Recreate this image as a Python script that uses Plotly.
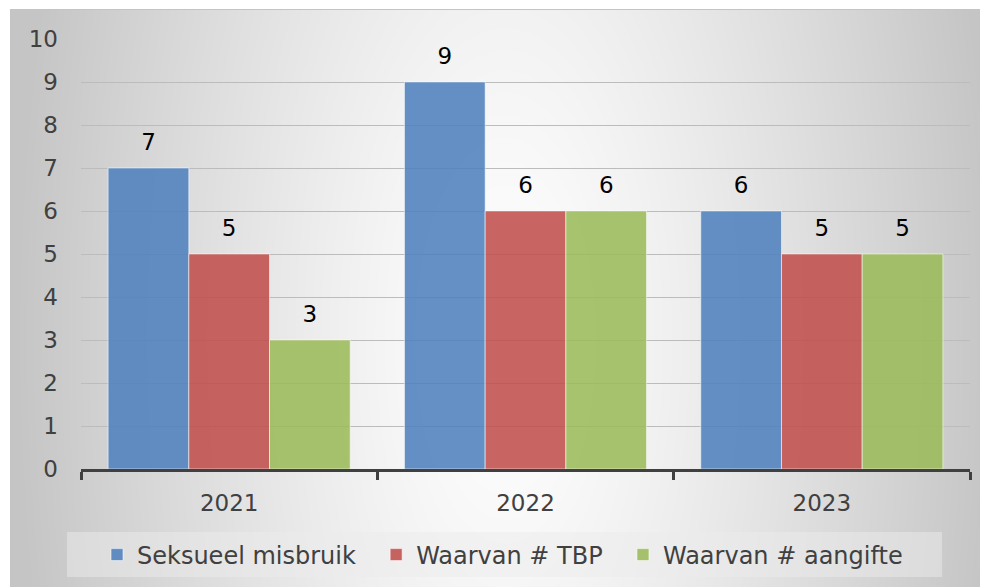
import base64, struct, zlib
import numpy as np
import plotly.graph_objects as go

# ---------------- data ----------------
years = ["2021", "2022", "2023"]
series_names = ["Seksueel misbruik", "Waarvan # TBP", "Waarvan # aangifte"]
seksueel_misbruik = [7, 9, 6]
waarvan_tbp = [5, 6, 5]
waarvan_aangifte = [3, 6, 5]
y_ticks = list(range(0, 11))

series_values = [seksueel_misbruik, waarvan_tbp, waarvan_aangifte]
colors = ["rgba(79,129,189,0.88)", "rgba(192,80,77,0.88)", "rgba(155,187,89,0.88)"]

# ---------------- layout geometry ----------------
# page body has an 8px margin; geometry below is in screen pixels
OFF = 8
W, H = 980, 579
PL, PR, PT, PB = 81, 970, 39, 469          # plot area on screen
FONT = "DejaVu Sans"
FS = 23
LFS = 24


def sx(px):
    return (px - PL) / (PR - PL)


def sy(py):
    return (PB - py) / (PB - PT)


# ---------------- radial gradient background (PNG data URI) ----------------
def make_png(arr):
    h, w = arr.shape
    raw = b"".join(b"\x00" + arr[i].tobytes() for i in range(h))

    def chunk(t, d):
        c = struct.pack(">I", len(d)) + t + d
        return c + struct.pack(">I", zlib.crc32(t + d) & 0xFFFFFFFF)

    ihdr = struct.pack(">IIBBBBB", w, h, 8, 0, 0, 0, 0)
    return (b"\x89PNG\r\n\x1a\n" + chunk(b"IHDR", ihdr)
            + chunk(b"IDAT", zlib.compress(raw, 9)) + chunk(b"IEND", b""))


CX0, CY0, CX1, CY1 = 10, 9, 988, 587
gw, gh = CX1 - CX0, CY1 - CY0
xx, yy = np.meshgrid(np.arange(gw) + CX0, np.arange(gh) + CY0)
cx, cy = 505, 340
r = np.sqrt(((xx - cx) / 492.0) ** 2 + ((yy - cy) / 1100.0) ** 2)
r = np.clip(r, 0, 1) ** 1.25
g = (255 - 58 * r).astype(np.uint8)
uri = "data:image/png;base64," + base64.b64encode(make_png(g)).decode()

fig = go.Figure()

NB = "\u00a0\u00a0"
for i, (name, vals, col) in enumerate(zip(series_names, series_values, colors)):
    fig.add_trace(go.Bar(
        x=years, y=vals, name=name + (NB if i < 2 else ""),
        marker=dict(color=col, line=dict(color="rgba(255,255,255,0.55)", width=1)),
        hoverinfo="skip",
    ))

# data labels, grouped like the bars
for name, vals in zip(series_names, series_values):
    fig.add_trace(go.Scatter(
        x=years, y=vals, mode="markers+text", text=[str(v) for v in vals],
        textposition="top center",
        textfont=dict(family=FONT, size=FS, color="#000000"),
        marker=dict(size=18, color="rgba(0,0,0,0)"),
        showlegend=False, hoverinfo="skip", cliponaxis=False,
    ))

fig.update_layout(
    width=W, height=H,
    margin=dict(l=PL - OFF, r=W - (PR - OFF), t=PT - OFF, b=H - (PB - OFF), autoexpand=False),
    paper_bgcolor="white",
    plot_bgcolor="rgba(0,0,0,0)",
    font=dict(family=FONT, size=FS, color="#404040"),
    barmode="group", bargap=0.183, bargroupgap=0,
    scattermode="group", scattergap=0.183,
    showlegend=True,
    legend=dict(
        orientation="h", x=sx(97), xanchor="left", y=sy(555), yanchor="middle",
        bgcolor="rgba(0,0,0,0)", font=dict(family=FONT, size=LFS, color="#404040"),
        traceorder="normal",
    ),
    images=[dict(
        source=uri, xref="paper", yref="paper",
        x=sx(CX0), y=sy(CY0), sizex=sx(CX1) - sx(CX0), sizey=sy(CY0) - sy(CY1),
        xanchor="left", yanchor="top", sizing="stretch", layer="below",
    )],
    shapes=[
        dict(type="rect", xref="paper", yref="paper",
             x0=sx(67), x1=sx(942), y0=sy(577), y1=sy(532),
             fillcolor="rgba(235,235,235,0.5)", line=dict(width=0), layer="below"),
        dict(type="rect", xref="paper", yref="paper",
             x0=sx(CX0 + 0.5), x1=sx(CX1 + 2), y0=sy(CY1 + 2), y1=sy(CY0 + 0.5),
             fillcolor="rgba(0,0,0,0)", line=dict(width=1, color="#c4c4c4"), layer="below"),
    ],
    xaxis=dict(
        type="category", showline=True, linecolor="#404040", linewidth=3,
        ticks="outside", tickson="boundaries", ticklen=8, tickwidth=2.5, tickcolor="#404040",
        showgrid=False, tickfont=dict(family=FONT, size=FS, color="#404040"),
        ticklabelstandoff=11,
        automargin=False, fixedrange=True,
    ),
    yaxis=dict(
        range=[0, 10], tickvals=y_ticks, showgrid=True, gridcolor="#bcbcbc", gridwidth=1,
        zeroline=False, showline=False, ticks="", ticklabelstandoff=22,
        tickfont=dict(family=FONT, size=FS, color="#404040"),
        automargin=False, fixedrange=True,
    ),
)

fig.write_html("out.html")
